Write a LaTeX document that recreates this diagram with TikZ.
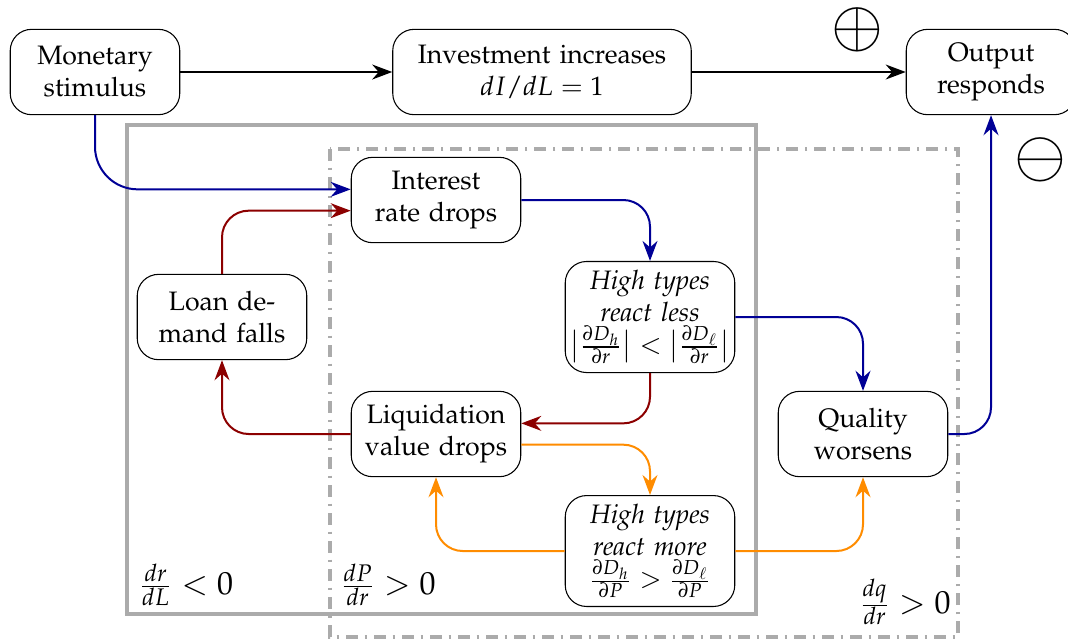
\documentclass[tikz,border=0pt]{standalone}
\usepackage[T1]{fontenc}
\usepackage{mathpazo}
\usetikzlibrary{arrows.meta}
\definecolor{chanblue}{RGB}{0,0,150}
\definecolor{chanred}{RGB}{140,0,0}
\definecolor{chanorange}{RGB}{255,140,0}
\tikzset{
	box/.style={draw, rounded corners=8pt, align=center, text width=2cm, minimum height=32pt},
	flow/.style={-{Stealth[length=7.5pt,width=5.6pt]}, line width=0.75pt, rounded corners=10pt},
	region/.style={draw=black!33, line width=1.2pt},
	sign/.style={inner sep=0pt},
}
\newcommand{\fullline}[1]{\makebox[\linewidth]{#1}}

\begin{document}
\begin{tikzpicture}[x=0.375pt, y=-0.375pt]
			%%%%% START %%%%%
			\useasboundingbox (0, 0) rectangle (1068, 641);
			
			% regions
			\draw[region] (127, 125) rectangle (756, 614);
			\draw[region, dash pattern=on 4.5pt off 2.5pt on 1pt off 2.5pt] (330, 149) rectangle (958, 637);
			
			% top row
			\node[box] (mon) at (95, 72) {Monetary\\stimulus};
			\node[box, text width=3.7cm] (inv) at (542, 72) {Investment increases\\\fullline{$dI/dL = 1$}};
			\node[box] (out) at (991, 72) {Output\\responds};
			
			% loop
			\node[box] (rate) at (436, 200) {Interest\\rate drops};
			\node[box] (loan) at (222, 317) {Loan de-\\mand falls};
			\node[box] (less) at (650, 317) {\itshape High types\\react less\\\fullline{$\bigl|\frac{\partial D_h}{\partial r}\bigr| < \bigl|\frac{\partial D_\ell}{\partial r}\bigr|$}};
			\node[box] (liq) at (436, 434) {Liquidation\\value drops};
			\node[box] (qual) at (863, 434) {Quality\\worsens};
			\node[box] (more) at (650, 551) {\itshape High types\\react more\\\fullline{$\frac{\partial D_h}{\partial P} > \frac{\partial D_\ell}{\partial P}$}};
			
			\node[sign] (plus) at (857, 30) {\scalebox{2.4}{$\oplus$}};
			\node[sign] (minus) at (1040, 160) {\scalebox{2.4}{$\ominus$}};
			
			\node (drdL) at (186, 585) {\large $\frac{dr}{dL} < 0$};
			\node (dPdr) at (388, 585) {\large $\frac{dP}{dr} > 0$};
			\node (dqdr) at (905, 602) {\large $\frac{dq}{dr} > 0$};
			
			% arrows
			\draw[flow, line width=0.9pt] (mon) -- (inv);
			\draw[flow, line width=0.9pt] (inv) -- (out);
			\draw[flow, chanblue, rounded corners=16pt] (mon.south) |- ([yshift=4pt]rate.west);
			\draw[flow, chanred] (loan.north) |- ([yshift=-4pt]rate.west);
			\draw[flow, chanblue] (rate.east) -| (less.north);
			\draw[flow, chanblue] (less.east) -| (qual.north);
			\draw[flow, chanred] (less.south) |- ([yshift=4pt]liq.east);
			\draw[flow, chanred] (liq.west) -| (loan.south);
			\draw[flow, chanorange] ([yshift=-4pt]liq.east) -| (more.north);
			\draw[flow, chanorange] (more.west) -| (liq.south);
			\draw[flow, chanorange] (more.east) -| (qual.south);
			\draw[flow, chanblue] (qual.east) -| (out.south);
			
			%%%%% END %%%%%
\end{tikzpicture}
\end{document}
